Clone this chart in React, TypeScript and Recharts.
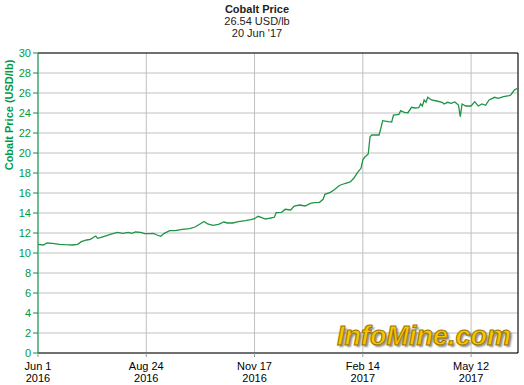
import React from 'react';
import { LineChart, Line, XAxis, YAxis, CartesianGrid, ReferenceLine } from 'recharts';

// trading-day index from Jun 1 2016
const dayIndex = [
  0, 3, 5, 8, 12, 15, 19, 22, 24, 27, 29, 32, 33, 35, 38, 40, 44, 47, 50, 52,
  54, 57, 59, 62, 64, 66, 68, 70, 73, 76, 80, 84, 87, 90, 92, 94, 97, 100, 103, 105,
  108, 111, 115, 118, 120, 122, 124, 126, 128, 129, 131, 132, 135, 137, 140, 142, 145, 148, 151, 153,
  156, 158, 159, 162, 164, 167, 170, 173, 175, 177, 179, 180, 181, 183, 184, 185, 189, 190, 191, 194,
  196, 197, 200, 201, 203, 205, 207, 209, 211, 212, 213, 214, 215, 216, 218, 221, 224, 225, 227, 229,
  231, 233, 234, 235, 237, 240, 242, 244, 246, 248, 250, 253, 255, 258, 261, 262, 264, 266,
];

// USD/lb
const prices = [
  10.87, 10.8, 11.0, 10.97, 10.87, 10.83, 10.8, 10.87, 11.13, 11.3, 11.37, 11.7, 11.47, 11.57, 11.73, 11.87, 12.07, 11.97, 12.07, 11.97,
  12.1, 12.07, 11.93, 11.93, 11.97, 11.8, 11.67, 11.97, 12.23, 12.23, 12.37, 12.43, 12.6, 12.93, 13.15, 12.9, 12.77, 12.87, 13.1, 13.0,
  13.0, 13.13, 13.23, 13.33, 13.43, 13.67, 13.53, 13.4, 13.47, 13.5, 13.57, 14.03, 14.07, 14.37, 14.3, 14.7, 14.8, 14.7, 14.97, 15.03,
  15.07, 15.37, 15.87, 16.07, 16.3, 16.75, 16.95, 17.1, 17.47, 18.03, 18.47, 19.3, 19.57, 19.9, 21.63, 21.8, 21.8, 22.47, 23.23, 23.13,
  23.1, 23.8, 23.87, 24.23, 24.07, 24.03, 24.57, 24.5, 24.53, 24.9, 24.7, 25.3, 25.07, 25.57, 25.3, 25.2, 25.07, 24.9, 25.07, 24.97,
  25.1, 24.8, 23.63, 24.9, 24.7, 24.7, 25.13, 24.7, 24.9, 24.77, 25.3, 25.57, 25.47, 25.63, 25.73, 25.8, 26.3, 26.5,
];

const xTicks = [0, 60, 120, 180, 240];
const xTickLabels = [['Jun 1', '2016'], ['Aug 24', '2016'], ['Nov 17', '2016'], ['Feb 14', '2017'], ['May 12', '2017']];
const yTicks = [0, 2, 4, 6, 8, 10, 12, 14, 16, 18, 20, 22, 24, 26, 28, 30];

const data = dayIndex.map((d, i) => ({ d, price: prices[i] }));

const GREEN = '#009944';
const FONT = '"Liberation Sans", Arial, sans-serif';

const DateTick = (props: any) => {
  const { x, y, payload } = props;
  const i = xTicks.indexOf(payload.value);
  const lines = xTickLabels[i] || ['', ''];
  return (
    <g>
      <text x={x} y={y + 11} textAnchor="middle" fontSize={11} fill="#000" fontFamily={FONT}>{lines[0]}</text>
      <text x={x} y={y + 23} textAnchor="middle" fontSize={11} fill="#000" fontFamily={FONT}>{lines[1]}</text>
    </g>
  );
};

export default function App() {
  return (
    <div style={{ position: 'absolute', left: 0, top: 0, width: 524, height: 385, background: '#fff', fontFamily: FONT }}>
      <div style={{ position: 'absolute', left: 157, top: 3, width: 200, textAlign: 'center', fontSize: 11, lineHeight: '12px', color: '#222' }}>
        <div style={{ fontWeight: 'bold' }}>Cobalt Price</div>
        <div>26.54 USD/lb</div>
        <div>20 Jun '17</div>
      </div>
      <LineChart width={524} height={385} data={data} margin={{ top: 53, right: 6, left: 8, bottom: 0 }}>
        <CartesianGrid stroke="#c0c0c0" strokeWidth={1} vertical horizontal />
        <XAxis
          dataKey="d"
          type="number"
          domain={[0, 266]}
          ticks={xTicks}
          tick={<DateTick />}
          stroke="#000"
          tickLine={{ stroke: '#999' }}
          tickSize={4}
          height={32}
          interval={0}
        />
        <YAxis
          domain={[0, 30]}
          ticks={yTicks}
          width={30}
          stroke={GREEN}
          tick={{ fill: GREEN, fontSize: 11, fontFamily: FONT }}
          tickSize={5}
          tickMargin={2}
          interval={0}
          label={{
            content: () => (
              <text
                x={13}
                y={115}
                transform="rotate(-90 13 115)"
                textAnchor="middle"
                fontSize={11}
                fontWeight="bold"
                fill={GREEN}
                fontFamily={FONT}
              >
                Cobalt Price (USD/lb)
              </text>
            ),
          }}
        />
        <ReferenceLine y={30} stroke="#000" strokeWidth={1} />
        <ReferenceLine x={266} stroke="#000" strokeWidth={1} />
        <Line
          type="linear"
          dataKey="price"
          stroke="#1e9446"
          strokeWidth={1.3}
          dot={false}
          isAnimationActive={false}
        />
      </LineChart>
      <div
        style={{
          position: 'absolute',
          left: 337,
          top: 322,
          fontSize: 27,
          fontWeight: 'bold',
          fontStyle: 'italic',
          color: '#f7c600',
          WebkitTextStroke: '1px #9a7400',
          textShadow: '2px 2px 2px rgba(0,0,0,0.45)',
          letterSpacing: 0,
          lineHeight: '28px',
        }}
      >
        InfoMine.com
      </div>
    </div>
  );
}
